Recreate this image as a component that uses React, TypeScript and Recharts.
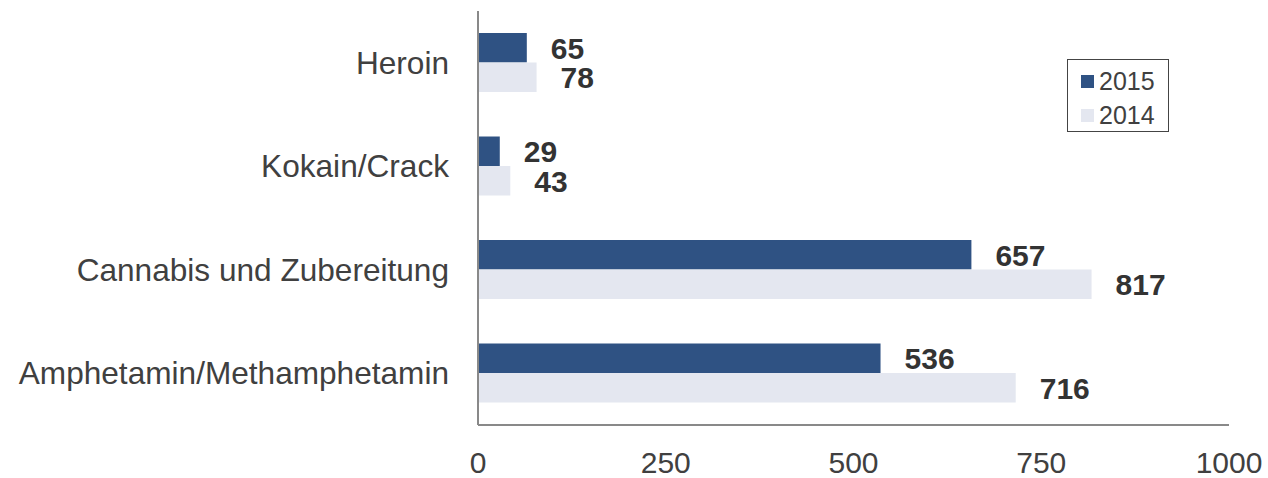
import React from "react";
import { BarChart, Bar, XAxis, YAxis, LabelList } from "recharts";

const categories = ["Heroin", "Kokain/Crack", "Cannabis und Zubereitung", "Amphetamin/Methamphetamin"];
const values2015 = [65, 29, 657, 536];
const values2014 = [78, 43, 817, 716];
const xTicks = [0, 250, 500, 750, 1000];
const seriesNames = ["2015", "2014"];

const data = categories.map((name, i) => ({ name, v2015: values2015[i], v2014: values2014[i] }));

const DARK = "#2F5283";
const LIGHT = "#E4E7F0";
const FONT = "'Liberation Sans', Arial, sans-serif";

const ValueLabel = (props: any) => {
  const { x, y, width, height, value } = props;
  return (
    <text
      x={Number(x) + Number(width) + 24}
      y={Number(y) + Number(height) / 2}
      dy="0.36em"
      textAnchor="start"
      fontFamily={FONT}
      fontSize={30}
      fontWeight="bold"
      fill="#333333"
    >
      {value}
    </text>
  );
};

const LegendBox = () => (
  <div
    style={{
      position: "absolute",
      left: 1067,
      top: 59,
      width: 102,
      height: 73,
      border: "1.5px solid #444",
      boxSizing: "border-box",
      fontFamily: FONT,
      fontSize: 25,
      color: "#404040",
      background: "#fff",
      paddingTop: 3,
    }}
  >
    {[
      { label: seriesNames[0], color: DARK },
      { label: seriesNames[1], color: LIGHT },
    ].map((it) => (
      <div key={it.label} style={{ display: "flex", alignItems: "center", height: 32, marginTop: 2 }}>
        <span style={{ display: "inline-block", width: 13, height: 13, background: it.color, marginLeft: 13, marginRight: 5 }} />
        <span style={{ lineHeight: "25px" }}>{it.label}</span>
      </div>
    ))}
  </div>
);

export default function App() {
  return (
    <div style={{ position: "absolute", left: 0, top: 0, width: 1268, height: 478, background: "#fff" }}>
      <BarChart
        width={1268}
        height={478}
        data={data}
        layout="vertical"
        margin={{ top: 11, right: 39, bottom: 0, left: 0 }}
        barCategoryGap="21.5%"
        barGap={0}
      >
        <XAxis
          type="number"
          domain={[0, 1000]}
          ticks={xTicks}
          height={53}
          tickLine={false}
          tickSize={0}
          tickMargin={27}
          axisLine={{ stroke: "#898989", strokeWidth: 2 }}
          tick={{ fontFamily: FONT, fontSize: 30, fill: "#404040" }}
        />
        <YAxis
          type="category"
          dataKey="name"
          width={478}
          tickLine={false}
          tickSize={0}
          tickMargin={29}
          axisLine={{ stroke: "#898989", strokeWidth: 2 }}
          tick={{ fontFamily: FONT, fontSize: 31.6, fill: "#404040" }}
          interval={0}
        />
        <Bar dataKey="v2015" name={seriesNames[0]} fill={DARK} barSize={29.5} isAnimationActive={false}>
          <LabelList dataKey="v2015" content={<ValueLabel />} />
        </Bar>
        <Bar dataKey="v2014" name={seriesNames[1]} fill={LIGHT} barSize={29.5} isAnimationActive={false}>
          <LabelList dataKey="v2014" content={<ValueLabel />} />
        </Bar>
      </BarChart>
      <LegendBox />
    </div>
  );
}
